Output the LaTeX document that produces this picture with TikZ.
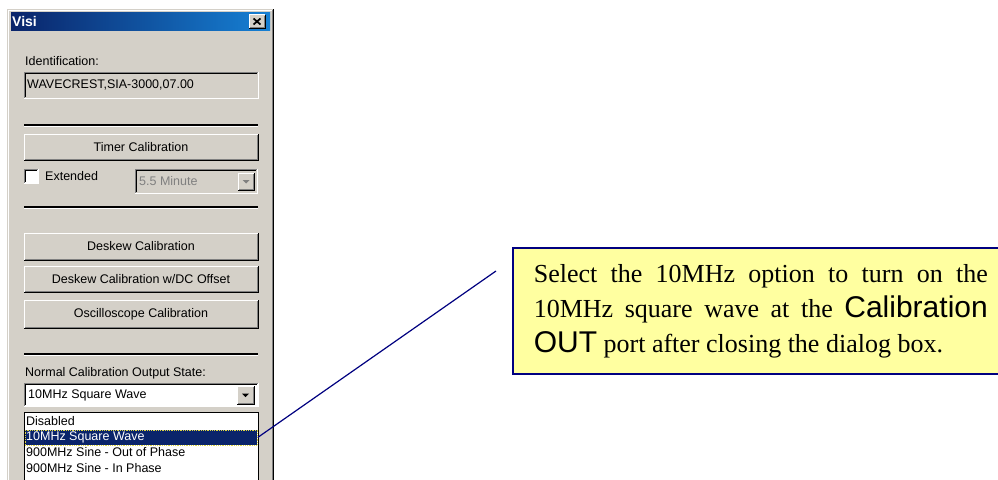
\documentclass[tikz,border=0pt]{standalone}
\usepackage{fontspec}
\setmainfont{Liberation Serif}
\newfontfamily\uifont{Liberation Sans}
\usetikzlibrary{calc}
\definecolor{wingray}{RGB}{212,208,200}
\definecolor{windark}{RGB}{128,128,128}
\definecolor{titlenavy}{RGB}{10,36,106}
\definecolor{titleblue}{RGB}{22,128,212}
\definecolor{callfill}{RGB}{255,255,160}
\definecolor{callline}{RGB}{0,0,128}
\definecolor{selnavy}{RGB}{10,36,106}
\newcommand\raisedframe[1]{%
  \draw[white,line width=1pt] (#1.south west) -- (#1.north west) -- (#1.north east);
  \draw[black,line width=1pt] (#1.south west) -- (#1.south east) -- (#1.north east);
  \draw[windark,line width=1pt] ([shift={(1pt,1pt)}]#1.south west) -- ([shift={(-1pt,1pt)}]#1.south east) -- ([shift={(-1pt,-1pt)}]#1.north east);}
\newcommand\sunkenframe[1]{%
  \draw[windark,line width=1pt] (#1.south west) -- (#1.north west) -- (#1.north east);
  \draw[white,line width=1pt] (#1.south west) -- (#1.south east) -- (#1.north east);
  \draw[black,line width=1pt] ([shift={(1pt,1pt)}]#1.south west) -- ([shift={(1pt,-1pt)}]#1.north west) -- ([shift={(-1pt,-1pt)}]#1.north east);}
\newcommand\separatorline[1]{%
  \draw[black,line width=1.4pt] (24,#1) -- (258,#1);
  \draw[white,line width=1pt] (24,#1+1.3) -- (258,#1+1.3);}
\begin{document}
\begin{tikzpicture}[x=1pt,y=-1pt,
  uitext/.style={font=\uifont\fontsize{12.5}{14}\selectfont, inner sep=0pt, anchor=west},
  widget/.style={anchor=north west, inner sep=0pt, outer sep=0pt, fill=wingray},
  btn/.style={widget, font=\uifont\fontsize{12.5}{14}\selectfont},
  callout/.style={anchor=north west, draw=callline, line width=1.6pt, fill=callfill,
    text width=454pt, align=justify, inner xsep=21pt, inner ysep=0pt,
    minimum height=126pt, font=\fontsize{26}{35}\selectfont},
  leader/.style={draw=callline, line width=1.2pt}]
\useasboundingbox (0,0) rectangle (998,479);
\clip (0,0) rectangle (998,479);
\fill[white] (0,0) rectangle (998,479);
% dialog window
\fill[wingray] (7,9) rectangle (274,485);
\draw[white,line width=1pt] (8.5,485) -- (8.5,10.5) -- (272,10.5);
\draw[windark,line width=1pt] (272,10) -- (272,485);
\draw[black,line width=1pt] (273.5,9) -- (273.5,485);
\shade[left color=titlenavy, right color=titleblue] (11,12) rectangle (270,30);
\node[font=\uifont\bfseries\fontsize{14}{16}\selectfont, text=white, inner sep=0pt, anchor=west] (title) at (12,21) {Visi};
\node[widget, minimum width=16pt, minimum height=14pt] (close) at (249,14.5) {};
\raisedframe{close}
\draw[black,line width=1.7pt] ($(close.center)+(-3.5pt,-3pt)$) -- ($(close.center)+(3.5pt,3pt)$);
\draw[black,line width=1.7pt] ($(close.center)+(-3.5pt,3pt)$) -- ($(close.center)+(3.5pt,-3pt)$);
% identification
\node[uitext] (idlabel) at (25,61) {Identification:};
\node[widget, minimum width=234pt, minimum height=26pt] (idbox) at (24,72) {};
\sunkenframe{idbox}
\node[uitext] (idtext) at (27,85) {WAVECREST,SIA-3000,07.00};
\separatorline{125}
% timer
\node[btn, minimum width=234pt, minimum height=26pt] (timer) at (24,134) {Timer Calibration};
\raisedframe{timer}
\node[widget, fill=white, minimum width=14pt, minimum height=14pt] (chk) at (24,169) {};
\sunkenframe{chk}
\node[uitext] (extended) at (45,176) {Extended};
\node[widget, minimum width=122pt, minimum height=24pt] (mincombo) at (135,169) {};
\sunkenframe{mincombo}
\node[uitext, text=windark] (mintext) at (139,181.5) {5.5 Minute};
\node[widget, minimum width=16pt, minimum height=17pt] (mindrop) at (238,173) {};
\raisedframe{mindrop}
\fill[windark] ($(mindrop.center)+(-3.5pt,1.5pt)$) -- ($(mindrop.center)+(3.5pt,1.5pt)$) -- ($(mindrop.center)+(0pt,-2pt)$) -- cycle;
\separatorline{207}
% calibration buttons
\node[btn, minimum width=234pt, minimum height=27pt] (deskew) at (24,233) {Deskew Calibration};
\raisedframe{deskew}
\node[btn, minimum width=234pt, minimum height=26pt] (deskewdc) at (24,266) {Deskew Calibration w/DC Offset};
\raisedframe{deskewdc}
\node[btn, minimum width=234pt, minimum height=28pt] (osc) at (24,300) {Oscilloscope Calibration};
\raisedframe{osc}
\separatorline{354}
% output state
\node[uitext] (outlabel) at (25,373) {Normal Calibration Output State:};
\node[widget, fill=white, minimum width=234pt, minimum height=23pt] (outcombo) at (24,383) {};
\sunkenframe{outcombo}
\node[uitext] (outtext) at (28,395) {10MHz Square Wave};
\node[widget, minimum width=17pt, minimum height=18pt] (outdrop) at (237,386) {};
\raisedframe{outdrop}
\fill[black] ($(outdrop.center)+(-3.5pt,1.5pt)$) -- ($(outdrop.center)+(3.5pt,1.5pt)$) -- ($(outdrop.center)+(0pt,-2pt)$) -- cycle;
\node[widget, fill=white, draw=black, line width=1pt, minimum width=234pt, minimum height=80pt] (list) at (24,412) {};
\node[anchor=north west, inner sep=0pt, fill=selnavy, draw=yellow!70!gray, densely dotted, line width=0.8pt, minimum width=232pt, minimum height=15pt] (selrow) at (25,429.5) {};
\node[uitext] (optdis) at (26,421) {Disabled};
\node[uitext, text=white] (opt10) at (26,437) {10MHz Square Wave};
\node[uitext] (optout) at (26,452.5) {900MHz Sine - Out of Phase};
\node[uitext] (optin) at (26,468) {900MHz Sine - In Phase};
% callout
\node[callout] (note) at (512,247) {Select the 10MHz option to turn on the\linebreak
10MHz square wave at the {\uifont\fontsize{30}{35}\selectfont Calibration}\linebreak
{\uifont\fontsize{30}{35}\selectfont OUT} port after closing the dialog box.};
\coordinate (leaderend) at (496,271);
\draw[leader] (selrow.east) -- (leaderend);
\end{tikzpicture}
\end{document}
